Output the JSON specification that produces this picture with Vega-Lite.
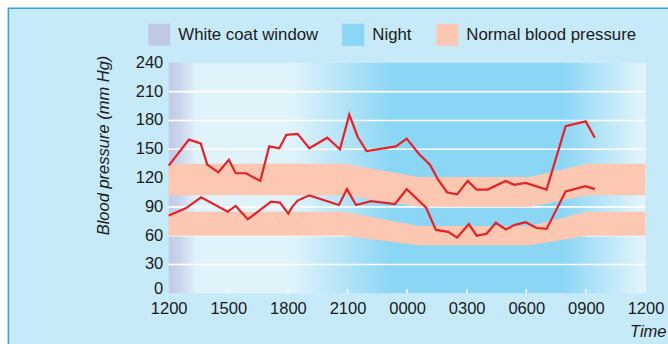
{
  "$schema": "https://vega.github.io/schema/vega-lite/v6.json",
  "width": 476.8,
  "height": 230.5,
  "autosize": {"type": "none"},
  "padding": {"left": 168.7, "top": 62.8, "right": 22.5, "bottom": 50.7},
  "background": "white",
  "datasets": {
    "bands": [
      {"h": 0, "u_hi": 135, "u_lo": 102, "l_hi": 85, "l_lo": 60},
      {"h": 8.8, "u_hi": 135, "u_lo": 102, "l_hi": 85, "l_lo": 60},
      {"h": 12.6, "u_hi": 121, "u_lo": 90, "l_hi": 70, "l_lo": 50},
      {"h": 18.2, "u_hi": 121, "u_lo": 90, "l_hi": 70, "l_lo": 50},
      {"h": 21.05, "u_hi": 135, "u_lo": 102, "l_hi": 85, "l_lo": 60},
      {"h": 24, "u_hi": 135, "u_lo": 102, "l_hi": 85, "l_lo": 60}
    ],
    "grid": [{"g": 30}, {"g": 60}, {"g": 90}, {"g": 120}, {"g": 150}, {"g": 180}, {"g": 210}],
    "ylabels": [{"g": 30}, {"g": 60}, {"g": 90}, {"g": 120}, {"g": 150}, {"g": 180}, {"g": 210}, {"g": 240}],
    "ticks": [{"h": 3}, {"h": 6}, {"h": 9}, {"h": 12}, {"h": 15}, {"h": 18}, {"h": 21}],
    "bp": [
      {"series": "Systolic", "h": 0.0, "v": 133},
      {"series": "Systolic", "h": 1.02, "v": 160},
      {"series": "Systolic", "h": 1.61, "v": 156},
      {"series": "Systolic", "h": 1.94, "v": 134},
      {"series": "Systolic", "h": 2.5, "v": 126},
      {"series": "Systolic", "h": 3.03, "v": 139},
      {"series": "Systolic", "h": 3.37, "v": 125},
      {"series": "Systolic", "h": 3.89, "v": 125},
      {"series": "Systolic", "h": 4.61, "v": 117},
      {"series": "Systolic", "h": 5.06, "v": 153},
      {"series": "Systolic", "h": 5.57, "v": 151},
      {"series": "Systolic", "h": 5.92, "v": 165},
      {"series": "Systolic", "h": 6.49, "v": 166},
      {"series": "Systolic", "h": 7.08, "v": 151},
      {"series": "Systolic", "h": 7.98, "v": 162},
      {"series": "Systolic", "h": 8.62, "v": 150},
      {"series": "Systolic", "h": 9.09, "v": 186},
      {"series": "Systolic", "h": 9.51, "v": 163},
      {"series": "Systolic", "h": 9.96, "v": 148},
      {"series": "Systolic", "h": 11.44, "v": 153},
      {"series": "Systolic", "h": 11.98, "v": 161},
      {"series": "Systolic", "h": 12.6, "v": 145},
      {"series": "Systolic", "h": 13.15, "v": 134},
      {"series": "Systolic", "h": 13.57, "v": 118},
      {"series": "Systolic", "h": 14.02, "v": 105},
      {"series": "Systolic", "h": 14.52, "v": 103},
      {"series": "Systolic", "h": 15.05, "v": 117},
      {"series": "Systolic", "h": 15.5, "v": 108},
      {"series": "Systolic", "h": 16.05, "v": 108},
      {"series": "Systolic", "h": 16.96, "v": 117},
      {"series": "Systolic", "h": 17.39, "v": 113},
      {"series": "Systolic", "h": 17.97, "v": 115},
      {"series": "Systolic", "h": 19.02, "v": 108},
      {"series": "Systolic", "h": 19.98, "v": 174},
      {"series": "Systolic", "h": 20.99, "v": 179},
      {"series": "Systolic", "h": 21.45, "v": 162},
      {"series": "Diastolic", "h": 0.0, "v": 81},
      {"series": "Diastolic", "h": 0.86, "v": 88.5},
      {"series": "Diastolic", "h": 1.63, "v": 100},
      {"series": "Diastolic", "h": 2.97, "v": 85},
      {"series": "Diastolic", "h": 3.37, "v": 91},
      {"series": "Diastolic", "h": 3.98, "v": 77},
      {"series": "Diastolic", "h": 5.15, "v": 95.5},
      {"series": "Diastolic", "h": 5.6, "v": 94.5},
      {"series": "Diastolic", "h": 6.02, "v": 83},
      {"series": "Diastolic", "h": 6.22, "v": 90},
      {"series": "Diastolic", "h": 6.49, "v": 96.5},
      {"series": "Diastolic", "h": 7.08, "v": 102},
      {"series": "Diastolic", "h": 8.57, "v": 92},
      {"series": "Diastolic", "h": 8.97, "v": 108.5},
      {"series": "Diastolic", "h": 9.43, "v": 92},
      {"series": "Diastolic", "h": 10.18, "v": 96},
      {"series": "Diastolic", "h": 11.39, "v": 93},
      {"series": "Diastolic", "h": 11.98, "v": 108.5},
      {"series": "Diastolic", "h": 12.95, "v": 89.5},
      {"series": "Diastolic", "h": 13.45, "v": 66},
      {"series": "Diastolic", "h": 14.07, "v": 64},
      {"series": "Diastolic", "h": 14.52, "v": 58},
      {"series": "Diastolic", "h": 15.11, "v": 72},
      {"series": "Diastolic", "h": 15.5, "v": 60},
      {"series": "Diastolic", "h": 16.0, "v": 62},
      {"series": "Diastolic", "h": 16.47, "v": 73.5},
      {"series": "Diastolic", "h": 16.98, "v": 66.5},
      {"series": "Diastolic", "h": 17.39, "v": 71},
      {"series": "Diastolic", "h": 17.97, "v": 74},
      {"series": "Diastolic", "h": 18.52, "v": 68},
      {"series": "Diastolic", "h": 19.02, "v": 67},
      {"series": "Diastolic", "h": 19.98, "v": 106},
      {"series": "Diastolic", "h": 20.99, "v": 111.5},
      {"series": "Diastolic", "h": 21.45, "v": 108.5}
    ]
  },
  "layer": [
    {
      "data": {"values": [{"part": "frame"}]},
      "mark": {"type": "rect", "fill": "#c7eaf9", "stroke": "#2aa8de", "strokeWidth": 1.5},
      "encoding": {
        "x": {
          "datum": -8.07, "type": "quantitative", "title": "Time",
          "scale": {"domain": [0, 24], "nice": false, "zero": false},
          "axis": {
            "zindex": 2,
            "labelOverlap": false,
            "values": [0, 3, 6, 9, 12, 15, 18, 21, 24],
            "labelExpr": "['1200','1500','1800','2100','0000','0300','0600','0900','1200'][round(datum.value/3)]"
          }
        },
        "x2": {"datum": 30},
        "y": {
          "datum": 296.7, "type": "quantitative", "title": "Blood pressure (mm Hg)",
          "scale": {"domain": [0, 240], "nice": false},
          "axis": {
            "zindex": 2,
            "labels": false,
            "values": [0, 30, 60, 90, 120, 150, 180, 210, 240]
          }
        },
        "y2": {"datum": -80}
      }
    },
    {
      "data": {"values": [{"part": "plot"}]},
      "mark": {"type": "rect", "fill": "#e0f3fb"},
      "encoding": {
        "x": {"datum": 0, "type": "quantitative", "title": "Time"},
        "x2": {"datum": 24},
        "y": {"datum": 0, "type": "quantitative", "title": "Blood pressure (mm Hg)"},
        "y2": {"datum": 240}
      }
    },
    {
      "data": {"values": [{"region": "White coat window", "start": 0, "end": 1.4}]},
      "mark": {"type": "rect", "fill": {"gradient": "linear", "x1": 0, "x2": 1, "y1": 0, "y2": 0, "stops": [{"offset": 0, "color": "#c2c9e7"}, {"offset": 0.35, "color": "#c9d3ec"}, {"offset": 1, "color": "#e0f3fb"}]}},
      "encoding": {
        "x": {"field": "start", "type": "quantitative", "title": "Time"},
        "x2": {"field": "end"},
        "y": {"datum": 0, "type": "quantitative", "title": "Blood pressure (mm Hg)"},
        "y2": {"datum": 240}
      }
    },
    {
      "data": {"values": [{"region": "Night", "start": 6.2, "end": 24}]},
      "mark": {"type": "rect", "fill": {"gradient": "linear", "x1": 0, "x2": 1, "y1": 0, "y2": 0, "stops": [{"offset": 0, "color": "#e0f3fb"}, {"offset": 0.28, "color": "#8cd6f5"}, {"offset": 0.765, "color": "#8cd6f5"}, {"offset": 0.985, "color": "#e0f3fb"}, {"offset": 1, "color": "#e0f3fb"}]}},
      "encoding": {
        "x": {"field": "start", "type": "quantitative", "title": "Time"},
        "x2": {"field": "end"},
        "y": {"datum": 0, "type": "quantitative", "title": "Blood pressure (mm Hg)"},
        "y2": {"datum": 240}
      }
    },
    {
      "data": {"name": "grid"},
      "mark": {"type": "rule", "color": "white", "strokeWidth": 1.6},
      "encoding": {
        "y": {"field": "g", "type": "quantitative", "title": "Blood pressure (mm Hg)"}
      }
    },
    {
      "data": {"name": "ticks"},
      "mark": {"type": "rule", "color": "white", "strokeWidth": 1.6},
      "encoding": {
        "x": {"field": "h", "type": "quantitative", "title": "Time"},
        "y": {"datum": 0, "type": "quantitative", "title": "Blood pressure (mm Hg)"},
        "y2": {"datum": 4.5}
      }
    },
    {
      "data": {"name": "bands"},
      "mark": {"type": "area", "opacity": 1},
      "encoding": {
        "x": {"field": "h", "type": "quantitative", "title": "Time"},
        "y": {"field": "u_hi", "type": "quantitative", "title": "Blood pressure (mm Hg)"},
        "y2": {"field": "u_lo"},
        "color": {
          "datum": "Normal blood pressure",
          "type": "nominal",
          "scale": {"domain": ["White coat window", "Night", "Normal blood pressure"], "range": ["#c0c8e6", "#8cd6f5", "#fcc8b2"]},
          "legend": {
            "title": null,
            "orient": "none",
            "direction": "horizontal",
            "legendX": -20.4,
            "legendY": -39,
            "symbolType": "square",
            "symbolSize": 484,
            "symbolStrokeWidth": 0,
            "symbolOpacity": 1,
            "labelFontSize": 16.8,
            "labelFont": "Liberation Sans",
            "labelColor": "#1a1a1a",
            "labelOffset": 8,
            "columnPadding": 24,
            "labelLimit": 400
          }
        }
      }
    },
    {
      "data": {"name": "bands"},
      "mark": {"type": "area", "opacity": 1},
      "encoding": {
        "x": {"field": "h", "type": "quantitative", "title": "Time"},
        "y": {"field": "l_hi", "type": "quantitative", "title": "Blood pressure (mm Hg)"},
        "y2": {"field": "l_lo"},
        "color": {"datum": "Normal blood pressure", "type": "nominal"}
      }
    },
    {
      "data": {"name": "bp"},
      "mark": {"type": "line", "color": "#e52228", "strokeWidth": 2.2, "strokeJoin": "miter"},
      "encoding": {
        "x": {"field": "h", "type": "quantitative", "title": "Time"},
        "y": {"field": "v", "type": "quantitative", "title": "Blood pressure (mm Hg)"},
        "detail": {"field": "series"}
      }
    },
    {
      "data": {"name": "ylabels"},
      "mark": {"type": "text", "align": "right", "baseline": "middle", "dx": -5.4, "fontSize": 16.5, "font": "Liberation Sans", "color": "#1a1a1a"},
      "encoding": {
        "x": {"datum": 0, "type": "quantitative", "title": "Time"},
        "y": {"field": "g", "type": "quantitative", "title": "Blood pressure (mm Hg)"},
        "text": {"field": "g", "type": "quantitative"}
      }
    },
    {
      "data": {"values": [{"g": 0}]},
      "mark": {"type": "text", "align": "right", "baseline": "alphabetic", "dx": -5.4, "dy": 1, "fontSize": 16.5, "font": "Liberation Sans", "color": "#1a1a1a"},
      "encoding": {
        "x": {"datum": 0, "type": "quantitative", "title": "Time"},
        "y": {"field": "g", "type": "quantitative", "title": "Blood pressure (mm Hg)"},
        "text": {"field": "g", "type": "quantitative"}
      }
    }
  ],
  "config": {
    "view": {"stroke": null},
    "font": "Liberation Sans",
    "axis": {
      "domain": false,
      "ticks": false,
      "grid": false,
      "labelOverlap": false,
      "labelSeparation": 0,
      "labelFontSize": 16.5,
      "labelFont": "Liberation Sans",
      "labelColor": "#1a1a1a",
      "titleFont": "Liberation Sans",
      "titleFontStyle": "italic",
      "titleFontWeight": "normal",
      "titleFontSize": 16.5,
      "titleColor": "#1a1a1a"
    },
    "axisX": {
      "labelFlush": false,
      "labelPadding": 7,
      "labelBaseline": "top",
      "titleAlign": "right",
      "titleBaseline": "alphabetic",
      "titleX": 497.3,
      "titleY": 43.4
    },
    "axisY": {
      "labelPadding": 5.4,
      "titleAngle": -90,
      "titleAlign": "center",
      "titleBaseline": "alphabetic",
      "titleX": -60.4,
      "titleY": 82.2
    }
  }
}
